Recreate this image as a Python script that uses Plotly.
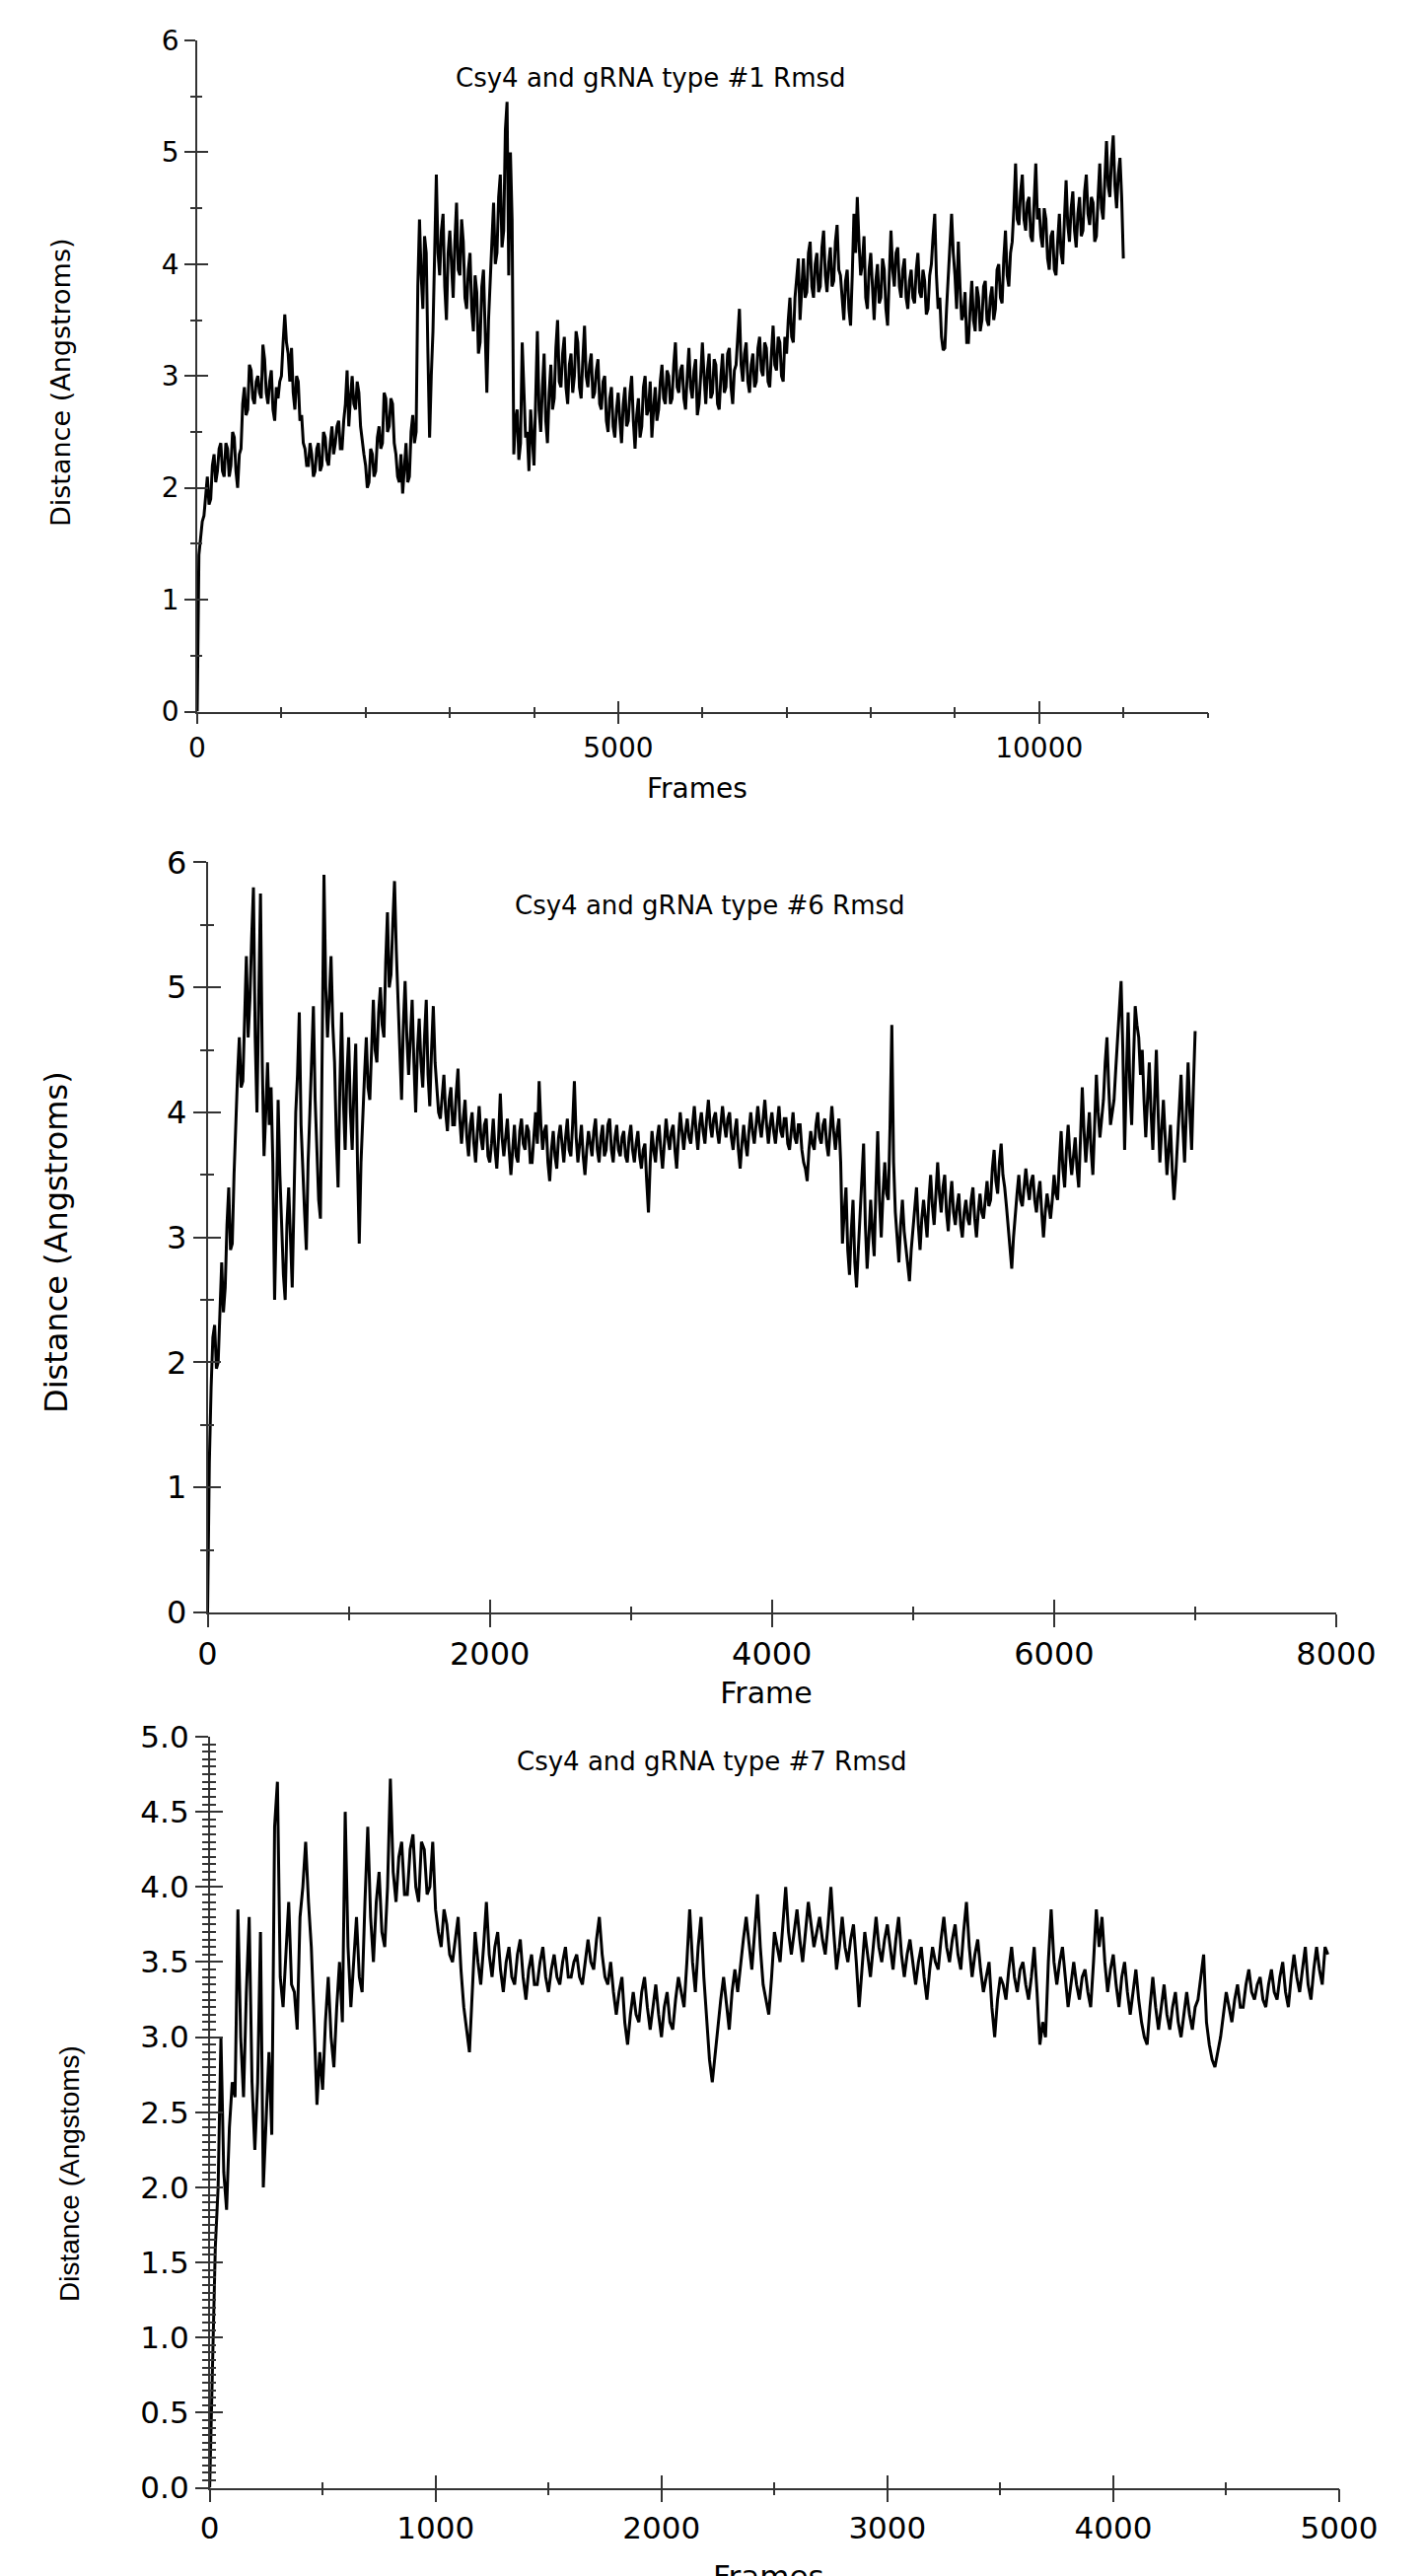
import plotly.graph_objects as go

# ---------------- data ----------------
# Panel 1: Csy4 and gRNA type #1 (frames 0..11000, every 20 frames)
p1_step = 20
p1_rmsd = [
    0.0, 1.4, 1.55, 1.7, 1.75, 1.95, 2.1, 1.85, 1.9, 2.2, 2.3, 2.05, 2.15, 2.35, 2.4, 2.15, 2.1, 2.4, 2.35, 2.1, 2.2, 2.5, 2.45, 2.15, 2.0,
    2.3, 2.35, 2.75, 2.9, 2.65, 2.7, 3.1, 3.05, 2.8, 2.75, 2.95, 3.0, 2.85, 2.8, 3.28, 3.15, 2.85, 2.75, 2.95, 3.05, 2.7, 2.6, 2.9, 2.8, 2.95,
    3.0, 3.3, 3.55, 3.3, 3.2, 2.95, 3.25, 2.85, 2.7, 3.0, 2.95, 2.6, 2.65, 2.4, 2.35, 2.2, 2.2, 2.4, 2.3, 2.1, 2.15, 2.35, 2.4, 2.15, 2.2,
    2.5, 2.45, 2.25, 2.2, 2.4, 2.55, 2.3, 2.4, 2.55, 2.6, 2.35, 2.35, 2.6, 2.75, 3.05, 2.55, 2.8, 3.0, 2.75, 2.7, 2.95, 2.85, 2.55, 2.4, 2.3,
    2.2, 2.0, 2.05, 2.35, 2.3, 2.1, 2.15, 2.45, 2.55, 2.35, 2.4, 2.85, 2.8, 2.5, 2.55, 2.8, 2.75, 2.4, 2.3, 2.1, 2.05, 2.3, 1.95, 2.2, 2.4,
    2.05, 2.1, 2.5, 2.65, 2.4, 2.5, 3.8, 4.4, 3.9, 3.6, 4.25, 4.1, 3.2, 2.45, 3.0, 3.4, 4.1, 4.8, 4.1, 3.9, 4.3, 4.45, 3.8, 3.5, 4.1,
    4.3, 4.0, 3.7, 4.2, 4.55, 3.95, 3.9, 4.4, 4.2, 3.7, 3.6, 3.95, 4.1, 3.6, 3.4, 3.9, 3.75, 3.2, 3.3, 3.8, 3.95, 3.4, 2.85, 3.5, 3.9,
    4.3, 4.55, 4.0, 4.1, 4.6, 4.8, 4.15, 4.3, 5.2, 5.45, 3.9, 5.0, 4.4, 2.3, 2.6, 2.7, 2.25, 2.4, 3.3, 2.8, 2.45, 2.5, 2.15, 2.7, 2.4,
    2.2, 2.8, 3.4, 2.7, 2.5, 2.9, 3.2, 2.6, 2.4, 2.85, 3.1, 2.7, 2.8, 3.25, 3.5, 2.95, 2.9, 3.2, 3.35, 2.9, 2.75, 3.1, 3.2, 2.85, 3.0,
    3.4, 3.3, 2.9, 2.8, 3.15, 3.45, 3.0, 2.9, 3.1, 3.2, 2.8, 2.85, 3.05, 3.15, 2.75, 2.7, 2.95, 3.0, 2.6, 2.5, 2.8, 2.9, 2.55, 2.45, 2.7,
    2.85, 2.6, 2.4, 2.75, 2.9, 2.55, 2.6, 2.85, 3.0, 2.6, 2.35, 2.65, 2.8, 2.45, 2.55, 2.9, 3.0, 2.65, 2.7, 2.95, 2.45, 2.7, 2.9, 2.6, 2.7,
    2.95, 3.1, 2.8, 2.75, 3.05, 3.0, 2.75, 2.8, 3.1, 3.3, 2.9, 2.85, 3.05, 3.1, 2.8, 2.7, 3.0, 3.25, 2.9, 2.8, 3.05, 3.15, 2.65, 2.75, 3.0,
    3.3, 3.0, 2.75, 3.05, 3.2, 2.8, 2.85, 3.15, 3.1, 2.75, 2.7, 3.0, 3.2, 2.85, 2.9, 3.2, 3.25, 2.9, 2.75, 3.05, 3.1, 3.35, 3.6, 3.1, 2.95,
    3.2, 3.3, 2.95, 2.85, 3.1, 3.2, 2.9, 2.95, 3.25, 3.35, 3.05, 3.0, 3.3, 3.25, 2.95, 2.9, 3.2, 3.45, 3.1, 3.05, 3.35, 3.3, 3.0, 2.95, 3.35,
    3.2, 3.5, 3.7, 3.35, 3.3, 3.7, 3.9, 4.05, 3.5, 3.8, 4.05, 3.7, 3.75, 4.1, 4.2, 3.8, 3.7, 4.0, 4.1, 3.75, 3.8, 4.15, 4.3, 3.9, 3.75,
    4.0, 4.15, 3.8, 3.85, 4.2, 4.35, 3.95, 3.9, 3.7, 3.5, 3.85, 3.95, 3.6, 3.45, 3.9, 4.45, 4.1, 4.6, 4.2, 3.9, 4.0, 4.25, 3.7, 3.6, 3.95,
    4.1, 3.8, 3.5, 3.85, 4.0, 3.65, 3.7, 4.05, 3.95, 3.6, 3.45, 3.9, 4.3, 3.95, 3.8, 4.1, 4.15, 3.8, 3.7, 3.95, 4.05, 3.7, 3.6, 3.85, 3.95,
    3.7, 3.65, 3.95, 4.1, 3.75, 3.7, 3.95, 3.85, 3.55, 3.6, 3.9, 4.0, 4.25, 4.45, 3.9, 3.6, 3.7, 3.35, 3.23, 3.25, 3.6, 3.9, 4.2, 4.45, 4.1,
    3.9, 3.6, 4.2, 3.8, 3.5, 3.55, 3.75, 3.3, 3.3, 3.6, 3.85, 3.5, 3.4, 3.8, 3.7, 3.4, 3.5, 3.8, 3.85, 3.5, 3.45, 3.7, 3.8, 3.5, 3.6,
    3.95, 4.0, 3.7, 3.65, 4.05, 4.3, 3.9, 3.8, 4.1, 4.2, 4.5, 4.9, 4.4, 4.35, 4.65, 4.8, 4.4, 4.3, 4.55, 4.6, 4.25, 4.2, 4.55, 4.9, 4.4,
    4.5, 4.25, 4.15, 4.5, 4.4, 4.05, 3.95, 4.25, 4.3, 3.95, 3.9, 4.2, 4.45, 4.1, 4.0, 4.4, 4.75, 4.35, 4.2, 4.5, 4.65, 4.3, 4.15, 4.45, 4.6,
    4.25, 4.3, 4.65, 4.8, 4.45, 4.35, 4.6, 4.55, 4.2, 4.25, 4.6, 4.9, 4.5, 4.4, 4.75, 5.1, 4.7, 4.6, 4.95, 5.15, 4.7, 4.5, 4.8, 4.95, 4.6,
    4.05,
]

# Panel 2: Csy4 and gRNA type #6 (frames 0..7000, every 12.5 frames)
p2_step = 12.5
p2_rmsd = [
    0.0, 1.2, 1.8, 2.2, 2.3, 1.95, 2.0, 2.5, 2.8, 2.4, 2.6, 3.1, 3.4, 2.9, 2.95, 3.5, 3.95, 4.3, 4.6, 4.2,
    4.25, 4.8, 5.25, 4.6, 4.9, 5.4, 5.8, 4.6, 4.0, 4.9, 5.75, 4.4, 3.65, 4.0, 4.4, 3.9, 4.2, 3.6, 2.5, 3.2,
    4.1, 3.5, 3.0, 2.7, 2.5, 3.1, 3.4, 2.9, 2.6, 3.3, 4.0, 4.3, 4.8, 3.9, 3.5, 3.2, 2.9, 3.6, 4.0, 4.4,
    4.85, 4.1, 3.6, 3.3, 3.15, 4.5, 5.9, 5.0, 4.6, 4.9, 5.25, 4.7, 4.4, 3.8, 3.4, 4.2, 4.8, 4.1, 3.7, 4.3,
    4.6, 4.0, 3.7, 4.2, 4.55, 3.6, 2.95, 3.6, 4.0, 4.3, 4.6, 4.2, 4.1, 4.6, 4.9, 4.5, 4.4, 4.8, 5.0, 4.7,
    4.6, 5.2, 5.6, 5.0, 5.1, 5.5, 5.85, 5.3, 4.95, 4.5, 4.1, 4.7, 5.05, 4.6, 4.3, 4.6, 4.9, 4.4, 4.0, 4.5,
    4.75, 4.4, 4.2, 4.6, 4.9, 4.3, 4.05, 4.5, 4.85, 4.4, 4.2, 4.0, 3.95, 4.15, 4.3, 4.0, 3.85, 4.1, 4.2, 3.9,
    3.9, 4.15, 4.35, 3.95, 3.75, 3.95, 4.1, 3.8, 3.65, 3.9, 4.0, 3.75, 3.6, 3.85, 4.05, 3.8, 3.7, 3.9, 3.95, 3.65,
    3.6, 3.75, 3.95, 3.7, 3.55, 3.8, 4.15, 3.8, 3.65, 3.8, 3.95, 3.7, 3.5, 3.7, 3.9, 3.65, 3.6, 3.85, 3.95, 3.75,
    3.7, 3.9, 3.85, 3.6, 3.6, 3.8, 4.0, 3.75, 4.25, 3.9, 3.7, 3.85, 3.9, 3.6, 3.45, 3.7, 3.85, 3.65, 3.55, 3.8,
    3.9, 3.75, 3.6, 3.8, 3.95, 3.7, 3.65, 3.9, 4.25, 3.8, 3.6, 3.75, 3.9, 3.65, 3.5, 3.7, 3.85, 3.75, 3.65, 3.85,
    3.95, 3.7, 3.6, 3.8, 3.9, 3.65, 3.7, 3.9, 3.95, 3.7, 3.6, 3.8, 3.9, 3.7, 3.65, 3.8, 3.85, 3.65, 3.6, 3.8,
    3.9, 3.7, 3.6, 3.75, 3.85, 3.65, 3.55, 3.7, 3.75, 3.45, 3.2, 3.6, 3.85, 3.7, 3.6, 3.8, 3.9, 3.7, 3.55, 3.75,
    3.95, 3.8, 3.7, 3.85, 3.9, 3.7, 3.55, 3.8, 4.0, 3.85, 3.7, 3.85, 3.95, 3.8, 3.75, 3.9, 4.05, 3.85, 3.7, 3.9,
    4.0, 3.85, 3.75, 3.95, 4.1, 3.9, 3.8, 3.95, 4.0, 3.85, 3.75, 3.9, 4.05, 3.9, 3.8, 3.95, 4.0, 3.8, 3.7, 3.85,
    3.95, 3.7, 3.55, 3.75, 3.9, 3.75, 3.65, 3.85, 4.0, 3.85, 3.75, 3.9, 4.05, 3.9, 3.8, 3.95, 4.1, 3.9, 3.75, 3.9,
    4.0, 3.85, 3.75, 3.9, 4.05, 3.85, 3.8, 3.95, 3.95, 3.75, 3.7, 3.85, 4.0, 3.8, 3.75, 3.9, 3.9, 3.7, 3.6, 3.55,
    3.45, 3.7, 3.85, 3.75, 3.7, 3.9, 4.0, 3.8, 3.75, 3.9, 3.95, 3.75, 3.65, 3.85, 4.05, 3.85, 3.7, 3.85, 3.95, 3.6,
    2.95, 3.2, 3.4, 2.9, 2.7, 3.05, 3.3, 2.8, 2.6, 2.9, 3.2, 3.5, 3.75, 3.1, 2.75, 3.0, 3.3, 3.05, 2.85, 3.4,
    3.85, 3.3, 3.0, 3.35, 3.6, 3.35, 3.3, 3.9, 4.7, 3.6, 3.2, 3.0, 2.8, 3.1, 3.3, 3.05, 2.9, 2.75, 2.65, 2.9,
    3.05, 3.25, 3.4, 3.1, 2.9, 3.15, 3.3, 3.15, 3.0, 3.3, 3.5, 3.25, 3.1, 3.35, 3.6, 3.35, 3.2, 3.4, 3.5, 3.2,
    3.05, 3.3, 3.45, 3.2, 3.1, 3.25, 3.35, 3.1, 3.0, 3.2, 3.3, 3.15, 3.1, 3.3, 3.4, 3.15, 3.0, 3.2, 3.35, 3.2,
    3.15, 3.3, 3.45, 3.25, 3.3, 3.55, 3.7, 3.45, 3.35, 3.6, 3.75, 3.5, 3.4, 3.25, 3.1, 2.9, 2.75, 3.0, 3.2, 3.35,
    3.5, 3.3, 3.25, 3.4, 3.55, 3.4, 3.3, 3.45, 3.5, 3.3, 3.2, 3.35, 3.45, 3.2, 3.0, 3.2, 3.35, 3.25, 3.15, 3.3,
    3.5, 3.35, 3.3, 3.6, 3.85, 3.55, 3.4, 3.7, 3.9, 3.65, 3.5, 3.65, 3.8, 3.55, 3.4, 3.8, 4.2, 3.85, 3.6, 3.8,
    4.0, 3.7, 3.5, 3.9, 4.3, 4.0, 3.8, 3.95, 4.1, 4.4, 4.6, 4.2, 3.9, 4.0, 4.1, 4.35, 4.6, 4.8, 5.05, 4.5,
    3.7, 4.3, 4.8, 4.2, 3.9, 4.4, 4.85, 4.7, 4.6, 4.3, 4.5, 4.1, 3.8, 4.1, 4.4, 4.0, 3.7, 4.1, 4.5, 4.0,
    3.6, 3.85, 4.1, 3.8, 3.5, 3.7, 3.9, 3.55, 3.3, 3.5, 3.75, 4.0, 4.3, 3.9, 3.6, 4.0, 4.4, 4.0, 3.7, 4.2,
    4.65,
]

# Panel 3: Csy4 and gRNA type #7 (frames 0..4950, every 12.5 frames)
p3_step = 12.5
p3_rmsd = [
    0.0, 0.75, 1.6, 2.0, 3.0, 2.1, 1.85, 2.4, 2.7, 2.6, 3.85, 3.0, 2.6, 3.3, 3.8, 2.7, 2.25, 2.7, 3.7, 2.0,
    2.4, 2.9, 2.35, 4.4, 4.7, 3.4, 3.2, 3.6, 3.9, 3.35, 3.3, 3.05, 3.8, 4.0, 4.3, 3.9, 3.6, 3.1, 2.55, 2.9,
    2.65, 3.1, 3.4, 3.0, 2.8, 3.2, 3.5, 3.1, 4.5, 3.6, 3.2, 3.5, 3.8, 3.4, 3.3, 3.9, 4.4, 3.8, 3.5, 3.9,
    4.1, 3.7, 3.6, 4.0, 4.72, 4.1, 3.9, 4.2, 4.3, 3.95, 3.95, 4.25, 4.35, 4.0, 3.9, 4.3, 4.25, 3.95, 4.0, 4.3,
    3.85, 3.7, 3.6, 3.85, 3.75, 3.55, 3.5, 3.65, 3.8, 3.45, 3.2, 3.05, 2.9, 3.3, 3.7, 3.5, 3.35, 3.6, 3.9, 3.55,
    3.4, 3.6, 3.7, 3.45, 3.3, 3.5, 3.6, 3.4, 3.35, 3.55, 3.65, 3.4, 3.25, 3.45, 3.55, 3.35, 3.35, 3.5, 3.6, 3.4,
    3.3, 3.45, 3.55, 3.4, 3.35, 3.5, 3.6, 3.4, 3.4, 3.5, 3.55, 3.4, 3.35, 3.5, 3.65, 3.5, 3.45, 3.65, 3.8, 3.55,
    3.4, 3.35, 3.5, 3.3, 3.15, 3.3, 3.4, 3.1, 2.95, 3.15, 3.3, 3.15, 3.1, 3.3, 3.4, 3.2, 3.05, 3.2, 3.35, 3.15,
    3.0, 3.2, 3.3, 3.1, 3.05, 3.25, 3.4, 3.3, 3.2, 3.5, 3.85, 3.5, 3.3, 3.6, 3.8, 3.4, 3.1, 2.85, 2.7, 2.9,
    3.1, 3.25, 3.4, 3.2, 3.05, 3.3, 3.45, 3.3, 3.5, 3.65, 3.8, 3.6, 3.45, 3.7, 3.95, 3.6, 3.35, 3.25, 3.15, 3.4,
    3.7, 3.6, 3.5, 3.75, 4.0, 3.7, 3.55, 3.7, 3.85, 3.65, 3.5, 3.7, 3.9, 3.75, 3.6, 3.7, 3.8, 3.65, 3.55, 3.75,
    4.0, 3.7, 3.45, 3.6, 3.8, 3.6, 3.5, 3.65, 3.75, 3.5, 3.2, 3.45, 3.7, 3.55, 3.4, 3.6, 3.8, 3.6, 3.5, 3.65,
    3.75, 3.6, 3.45, 3.65, 3.8, 3.55, 3.4, 3.55, 3.65, 3.5, 3.35, 3.5, 3.6, 3.4, 3.25, 3.45, 3.6, 3.5, 3.45, 3.65,
    3.8, 3.6, 3.5, 3.65, 3.75, 3.55, 3.45, 3.7, 3.9, 3.6, 3.4, 3.55, 3.65, 3.45, 3.3, 3.4, 3.5, 3.2, 3.0, 3.25,
    3.4, 3.35, 3.25, 3.45, 3.6, 3.4, 3.3, 3.45, 3.5, 3.35, 3.25, 3.4, 3.6, 3.3, 2.95, 3.1, 3.0, 3.5, 3.85, 3.5,
    3.35, 3.5, 3.6, 3.4, 3.2, 3.35, 3.5, 3.35, 3.25, 3.4, 3.45, 3.3, 3.2, 3.5, 3.85, 3.6, 3.8, 3.5, 3.3, 3.45,
    3.55, 3.35, 3.2, 3.4, 3.5, 3.3, 3.15, 3.3, 3.45, 3.25, 3.1, 3.0, 2.95, 3.2, 3.4, 3.2, 3.05, 3.2, 3.35, 3.15,
    3.05, 3.2, 3.3, 3.1, 3.0, 3.15, 3.3, 3.15, 3.05, 3.2, 3.25, 3.4, 3.55, 3.1, 2.95, 2.85, 2.8, 2.9, 3.0, 3.15,
    3.3, 3.2, 3.1, 3.25, 3.35, 3.2, 3.2, 3.35, 3.45, 3.3, 3.25, 3.35, 3.4, 3.25, 3.2, 3.35, 3.45, 3.3, 3.25, 3.4,
    3.5, 3.3, 3.2, 3.4, 3.55, 3.4, 3.3, 3.45, 3.6, 3.35, 3.25, 3.45, 3.6, 3.45, 3.35, 3.6, 3.55,
]

p1_frames = [i * p1_step for i in range(len(p1_rmsd))]
p2_frames = [i * p2_step for i in range(len(p2_rmsd))]
p3_frames = [i * p3_step for i in range(len(p3_rmsd))]

titles = ["Csy4 and gRNA type #1 Rmsd", "Csy4 and gRNA type #6 Rmsd", "Csy4 and gRNA type #7 Rmsd"]
ytitles = ["Distance (Angstroms)", "Distance (Angstroms)", "Distance (Angstoms)"]
xtitles = ["Frames", "Frame", "Frames"]

# ---------------- layout geometry (pixels) ----------------
W, H = 1444, 2612
FONT = "DejaVu Sans"
AX = "#333333"


def px_x(p):
    return p / W


def px_y(p):
    return 1 - p / H


panels = [
    dict(x=p1_frames, y=p1_rmsd, xl=200, xr=1224.5, yt=41, yb=721.5,
         xr_=[0, 12000], yr_=[0, 6], xd=5000, xm=1000, yd=1, ym=0.5, yfmt="",
         tfs=28, maj=11, mnr=5),
    dict(x=p2_frames, y=p2_rmsd, xl=210.5, xr=1355, yt=874.4, yb=1635,
         xr_=[0, 8000], yr_=[0, 6], xd=2000, xm=1000, yd=1, ym=0.5, yfmt="",
         tfs=32, maj=13, mnr=6),
    dict(x=p3_frames, y=p3_rmsd, xl=212.6, xr=1358, yt=1761, yb=2522.5,
         xr_=[0, 5000], yr_=[0, 5], xd=1000, xm=500, yd=0.5, ym=0.05, yfmt=".1f",
         tfs=31, maj=13, mnr=6),
]

fig = go.Figure()
layout = dict(width=W, height=H, margin=dict(l=0, r=0, t=0, b=0, autoexpand=False),
              paper_bgcolor="white", plot_bgcolor="white", showlegend=False,
              font=dict(family=FONT, color="black"))

for i, p in enumerate(panels):
    n = i + 1
    o = i + 4
    xs = "" if n == 1 else str(n)
    xk, yk = "xaxis" + xs, "yaxis" + xs
    fig.add_trace(go.Scatter(x=p["x"], y=p["y"], mode="lines",
                             line=dict(color="black", width=3),
                             xaxis="x" + xs, yaxis="y" + xs, hoverinfo="skip"))
    # dummy trace for overlay (inside-tick) axes -> ticks that cross the axis line
    fig.add_trace(go.Scatter(x=[None], y=[None], mode="lines",
                             xaxis="x" + str(o), yaxis="y" + str(o), hoverinfo="skip"))
    common = dict(showgrid=False, zeroline=False, tickwidth=1.5, tickcolor=AX)
    layout[xk] = dict(domain=[px_x(p["xl"]), px_x(p["xr"])], anchor="y" + xs,
                      range=p["xr_"], showline=True, linecolor=AX, linewidth=1.5,
                      ticks="outside", ticklen=p["maj"], tick0=0, dtick=p["xd"],
                      tickformat="d",
                      tickfont=dict(family=FONT, size=p["tfs"], color="black"),
                      minor=dict(ticks="outside", ticklen=p["mnr"], dtick=p["xm"], tick0=0,
                                 tickwidth=1.5, tickcolor=AX, showgrid=False),
                      **common)
    layout[yk] = dict(domain=[px_y(p["yb"]), px_y(p["yt"])], anchor="x" + xs,
                      range=p["yr_"], showline=True, linecolor=AX, linewidth=1.5,
                      ticks="outside", ticklen=p["maj"], tick0=0, dtick=p["yd"],
                      tickformat=p["yfmt"],
                      tickfont=dict(family=FONT, size=p["tfs"], color="black"),
                      minor=dict(ticks="outside", ticklen=p["mnr"], dtick=p["ym"], tick0=0,
                                 tickwidth=1.5, tickcolor=AX, showgrid=False),
                      **common)
    layout["xaxis" + str(o)] = dict(overlaying="x" + xs, anchor="y" + str(o), side="bottom",
                                    range=p["xr_"], showline=False, showticklabels=False,
                                    ticks="inside", ticklen=p["maj"], tick0=0, dtick=p["xd"],
                                    minor=dict(ticks="inside", ticklen=p["mnr"], dtick=p["xm"], tick0=0,
                                               tickwidth=1.5, tickcolor=AX, showgrid=False),
                                    **common)
    layout["yaxis" + str(o)] = dict(overlaying="y" + xs, anchor="x" + str(o), side="left",
                                    range=p["yr_"], showline=False, showticklabels=False,
                                    ticks="inside", ticklen=p["maj"], tick0=0, dtick=p["yd"],
                                    minor=dict(ticks="inside", ticklen=p["mnr"], dtick=p["ym"], tick0=0,
                                               tickwidth=1.5, tickcolor=AX, showgrid=False),
                                    **common)

# clipped "Frame" label of panel 2 (cut off by the panel below)
fig.add_trace(go.Scatter(x=[777], y=[1719], mode="text", text=[xtitles[1]],
                         textfont=dict(family=FONT, size=30, color="black"),
                         textposition="middle center", cliponaxis=True,
                         xaxis="x7", yaxis="y7", hoverinfo="skip"))
layout["xaxis7"] = dict(domain=[0, 1], range=[0, W], visible=False, anchor="y7")
layout["yaxis7"] = dict(domain=[px_y(1728), px_y(1680)], range=[1728, 1680], visible=False, anchor="x7")

ann = []
# titles
for (cx, cy), t in zip([(659.5, 79), (720, 918), (722, 1786)], titles):
    ann.append(dict(x=px_x(cx), y=px_y(cy), xref="paper", yref="paper", text=t, showarrow=False,
                    xanchor="center", yanchor="middle", font=dict(family=FONT, size=26, color="black")))
# y titles
for (cx, cy, fs, fam), t in zip([(62, 388, 27, FONT), (57, 1260, 32, FONT), (70, 2204, 28, "Liberation Sans")], ytitles):
    ann.append(dict(x=px_x(cx), y=px_y(cy), xref="paper", yref="paper", text=t, showarrow=False,
                    textangle=-90, xanchor="center", yanchor="middle",
                    font=dict(family=fam, size=fs, color="black")))
# x titles
ann.append(dict(x=px_x(707), y=px_y(800), xref="paper", yref="paper", text=xtitles[0], showarrow=False,
                xanchor="center", yanchor="middle", font=dict(family=FONT, size=28, color="black")))
ann.append(dict(x=px_x(780), y=px_y(2592), xref="paper", yref="paper", text=xtitles[2], showarrow=False,
                xanchor="center", yanchor="top", font=dict(family=FONT, size=31, color="black")))
layout["annotations"] = ann

fig.update_layout(**layout)
fig.write_html("out.html")
